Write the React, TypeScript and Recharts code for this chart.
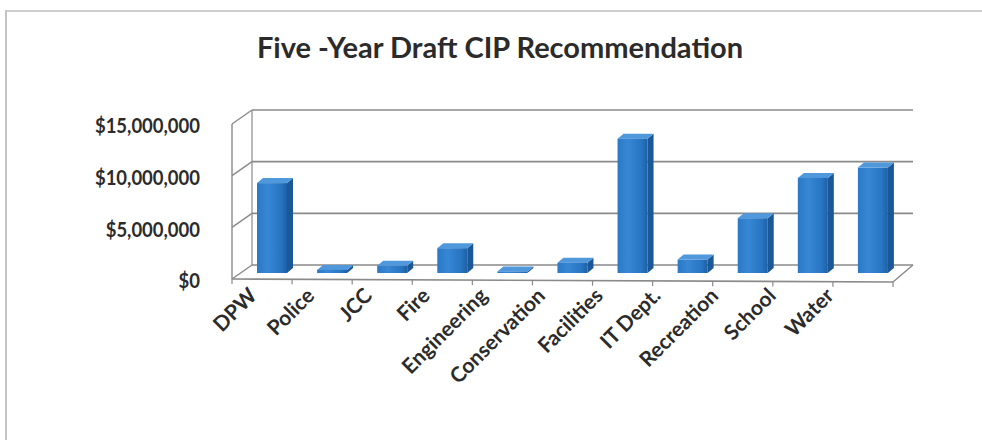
import React from 'react';
import { BarChart, Bar, XAxis, YAxis, CartesianGrid } from 'recharts';

const categories = ['DPW', 'Police', 'JCC', 'Fire', 'Engineering', 'Conservation', 'Facilities', 'IT Dept.', 'Recreation', 'School', 'Water'];
const amounts = [8700000, 300000, 700000, 2400000, 150000, 1000000, 13000000, 1300000, 5300000, 9200000, 10200000];
const yTicks = [0, 5000000, 10000000, 15000000];
const yTickLabels = ['$0', '$5,000,000', '$10,000,000', '$15,000,000'];
const title = 'Five -Year Draft CIP Recommendation';

const data = categories.map((name, i) => ({ name, value: amounts[i] }));

const W = 982;
const H = 440;
const PLOT_TOP = 118;
const PLOT_BOTTOM = 273;
const Y_AXIS_W = 242;
const RIGHT_M = 79;
const X_AXIS_H = 120;
const BOTTOM_M = H - PLOT_BOTTOM - X_AXIS_H;
// 3D depth offsets
const BACK_DX = 10, BACK_DY = -8;
const FRONT_DX = -10, FRONT_DY = 6;
const GRID = '#8a8a8a';
const FONT = 'Lato, "Open Sans", sans-serif';
const TEXT = '#2b2b2b';

const Bar3D = (props: any) => {
  const { x, y, width, height } = props;
  if (width == null || height == null) return null;
  const d = 6, dy = 5;
  return (
    <g>
      <path d={`M${x + width},${y} L${x + width + d},${y - dy} L${x + width + d},${y + height - dy} L${x + width},${y + height} Z`} fill="#1A5898" />
      <path d={`M${x},${y} L${x + d},${y - dy} L${x + width + d},${y - dy} L${x + width},${y} Z`} fill="#4F98DC" />
      <rect x={x} y={y} width={width} height={height} fill="url(#barFront)" />
    </g>
  );
};

const gridLine = (p: any) => {
  const { x1, x2, y1, key } = p;
  const y = y1;
  const isBottom = Math.abs(y - PLOT_BOTTOM) < 1;
  const els: any[] = [];
  els.push(<line key="b" x1={x1 + BACK_DX} y1={y + BACK_DY} x2={x2 + BACK_DX} y2={y + BACK_DY} stroke={GRID} strokeWidth={1.6} />);
  els.push(<line key="s" x1={x1 + FRONT_DX} y1={y + FRONT_DY} x2={x1 + BACK_DX} y2={y + BACK_DY} stroke={GRID} strokeWidth={1.4} />);
  if (isBottom) {
    const n = categories.length;
    els.push(<line key="f" x1={x1 + FRONT_DX} y1={y + FRONT_DY} x2={x2 + FRONT_DX} y2={y + FRONT_DY + 3} stroke={GRID} strokeWidth={1.6} />);
    els.push(<line key="r" x1={x2 + FRONT_DX} y1={y + FRONT_DY + 3} x2={x2 + BACK_DX} y2={y + BACK_DY} stroke={GRID} strokeWidth={1.4} />);
    els.push(<line key="fl" x1={x1 + FRONT_DX} y1={y + FRONT_DY} x2={x1 + FRONT_DX} y2={PLOT_TOP + FRONT_DY} stroke={GRID} strokeWidth={1.4} />);
    els.push(<line key="bl" x1={x1 + BACK_DX} y1={y + BACK_DY} x2={x1 + BACK_DX} y2={PLOT_TOP + BACK_DY} stroke={GRID} strokeWidth={1.2} />);
    for (let i = 0; i <= n; i++) {
      const tx = x1 + FRONT_DX + (i * (x2 - x1)) / n;
      const ty = y + FRONT_DY + (3 * i) / n;
      els.push(<line key={'t' + i} x1={tx} y1={ty} x2={tx} y2={ty + 5} stroke={GRID} strokeWidth={1.2} />);
    }
  }
  return <g key={key}>{els}</g>;
};

const YTick = (props: any) => {
  const { y, payload } = props;
  const idx = yTicks.indexOf(payload.value);
  return (
    <text transform={`translate(200 ${y + FRONT_DY + 1}) scale(0.88 1)`} x={0} y={0} textAnchor="end" dominantBaseline="central" fontFamily={FONT} fontWeight={700} fontSize={21} fill={TEXT}>
      {yTickLabels[idx]}
    </text>
  );
};

const XTick = (props: any) => {
  const { x, payload } = props;
  const i = payload.index ?? categories.indexOf(payload.value);
  const ax = x + FRONT_DX - 4 - i * 2.4;
  const ay = PLOT_BOTTOM + 24;
  return (
    <text x={ax} y={ay} textAnchor="end" transform={`rotate(-45 ${ax} ${ay})`} fontFamily={FONT} fontWeight={700} fontSize={21} fill={TEXT}>
      {payload.value}
    </text>
  );
};

export default function App() {
  return (
    <div style={{ position: 'absolute', left: 0, top: 0, width: W, height: H, background: '#fff', overflow: 'hidden' }}>
      <div style={{ position: 'absolute', left: 5, top: 10, width: W + 20, height: H + 20, borderLeft: '2px solid #c4c4c4', borderTop: '2px solid #cfcfcf' }} />
      <div style={{ position: 'absolute', left: 0, top: 29, width: 1000, textAlign: 'center', fontFamily: FONT, fontWeight: 700, fontSize: 29, color: TEXT, lineHeight: '36px' }}>
        {title}
      </div>
      <div style={{ position: 'absolute', left: 0, top: 0 }}>
        <BarChart width={W} height={H} data={data} margin={{ top: PLOT_TOP, right: RIGHT_M, bottom: BOTTOM_M, left: 0 }} barSize={30}>
          <defs>
            <linearGradient id="barFront" x1="0" y1="0" x2="1" y2="0">
              <stop offset="0" stopColor="#2A79C7" />
              <stop offset="0.35" stopColor="#3787D4" />
              <stop offset="0.8" stopColor="#2875C2" />
              <stop offset="1" stopColor="#1D60A4" />
            </linearGradient>
          </defs>
          <CartesianGrid vertical={false} horizontal={gridLine} />
          <YAxis width={Y_AXIS_W} domain={[0, 15000000]} ticks={yTicks} axisLine={false} tickLine={false} tick={<YTick />} interval={0} />
          <XAxis dataKey="name" height={X_AXIS_H} axisLine={false} tickLine={false} tick={<XTick />} interval={0} />
          <Bar dataKey="value" shape={<Bar3D />} isAnimationActive={false} />
        </BarChart>
      </div>
    </div>
  );
}
